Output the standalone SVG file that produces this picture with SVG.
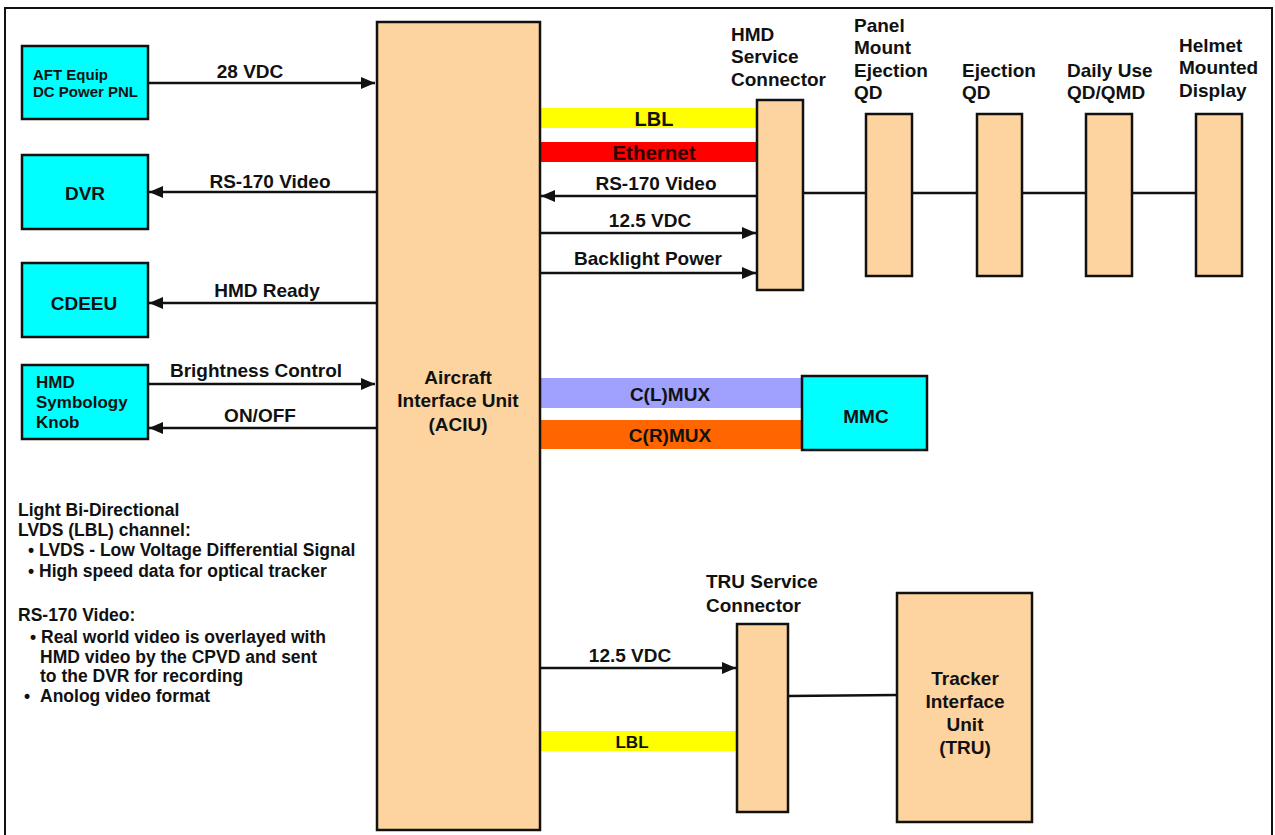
<svg xmlns="http://www.w3.org/2000/svg" width="1275" height="835" viewBox="0 0 1275 835">
<defs>
<style>
text{font-family:"Liberation Sans",Arial,sans-serif;font-weight:bold;fill:#111}
.c{text-anchor:middle}
.box{stroke:#111;stroke-width:2.5}
.cy{fill:#00FFFF}
.pe{fill:#FDD4A0}
.ln{stroke:#111;stroke-width:2.5;fill:none}
.f19{font-size:19px}
.f17{font-size:17px}
.fn{font-size:17.5px}
.f15{font-size:15px}
</style>
<marker id="ah" viewBox="0 0 14 12" refX="14" refY="6" markerWidth="14" markerHeight="12" markerUnits="userSpaceOnUse" orient="auto">
<path d="M0,0 L14,6 L0,12 z" fill="#111"/>
</marker>
</defs>
<rect x="0" y="0" width="1275" height="835" fill="#fff"/>
<path d="M5,836 V8 H1272 V836" fill="none" stroke="#111" stroke-width="2"/>

<g id="bands">
<rect x="540" y="108" width="217" height="20" fill="#FFFF00"/>
<rect x="540" y="142" width="217" height="20" fill="#FF0000"/>
<rect x="540" y="378" width="262" height="30" fill="#A0A0FF"/>
<rect x="540" y="420" width="262" height="29" fill="#FF6600"/>
<rect x="540" y="731" width="197" height="20" fill="#FFFF00"/>
</g>

<g id="connectors">
<line class="ln" x1="148" y1="83" x2="375" y2="83" marker-end="url(#ah)"/>
<line class="ln" x1="376" y1="192" x2="149" y2="192" marker-end="url(#ah)"/>
<line class="ln" x1="376" y1="303" x2="149" y2="303" marker-end="url(#ah)"/>
<line class="ln" x1="148" y1="384" x2="375" y2="384" marker-end="url(#ah)"/>
<line class="ln" x1="376" y1="428" x2="149" y2="428" marker-end="url(#ah)"/>
<line class="ln" x1="757" y1="196" x2="541" y2="196" marker-end="url(#ah)"/>
<line class="ln" x1="540" y1="233" x2="756" y2="233" marker-end="url(#ah)"/>
<line class="ln" x1="540" y1="273" x2="756" y2="273" marker-end="url(#ah)"/>
<line class="ln" x1="803" y1="193" x2="1196" y2="193"/>
<line class="ln" x1="540" y1="668" x2="736" y2="668" marker-end="url(#ah)"/>
<line class="ln" x1="788" y1="696" x2="897" y2="695"/>
<text class="c f19" x="250" y="78">28 VDC</text>
<text class="c f19" x="270" y="188">RS-170 Video</text>
<text class="c f19" x="267" y="297">HMD Ready</text>
<text class="c f19" x="256" y="377">Brightness Control</text>
<text class="c f19" x="260" y="422">ON/OFF</text>
<text class="c" x="654" y="126" style="font-size:20px">LBL</text>
<text class="c" x="654" y="160" style="font-size:20.5px;fill:#300">Ethernet</text>
<text class="c f19" x="656" y="190">RS-170 Video</text>
<text class="c f19" x="650" y="227">12.5 VDC</text>
<text class="c f19" x="648" y="265">Backlight Power</text>
<text class="c f19" x="670" y="401">C(L)MUX</text>
<text class="c f19" x="670" y="442">C(R)MUX</text>
<text class="c f19" x="630" y="662">12.5 VDC</text>
<text class="c f17" x="632" y="748">LBL</text>
</g>

<g id="aft">
<rect class="box cy" x="22" y="46" width="126" height="73"/>
<text class="f15" x="33" y="80">AFT Equip</text>
<text class="f15" x="33" y="97">DC Power PNL</text>
</g>
<g id="dvr">
<rect class="box cy" x="22" y="155" width="126" height="74"/>
<text class="c f19" x="85" y="200">DVR</text>
</g>
<g id="cdeeu">
<rect class="box cy" x="22" y="263" width="126" height="74"/>
<text class="c f19" x="84" y="310">CDEEU</text>
</g>
<g id="knob">
<rect class="box cy" x="22" y="365" width="126" height="74"/>
<text class="f17" x="36" y="388">HMD</text>
<text class="f17" x="36" y="408">Symbology</text>
<text class="f17" x="36" y="428">Knob</text>
</g>

<g id="aciu">
<rect class="box pe" x="377" y="22" width="163" height="808"/>
<text class="c f19" x="458" y="384">Aircraft</text>
<text class="c f19" x="458" y="407">Interface Unit</text>
<text class="c f19" x="458" y="431">(ACIU)</text>
</g>

<g id="hmd-service">
<rect class="box pe" x="757" y="100" width="46" height="190"/>
<text class="f19" x="731" y="41">HMD</text>
<text class="f19" x="731" y="63">Service</text>
<text class="f19" x="731" y="86">Connector</text>
</g>
<g id="panel-qd">
<rect class="box pe" x="866" y="114" width="46" height="162"/>
<text class="f19" x="854" y="32">Panel</text>
<text class="f19" x="854" y="54">Mount</text>
<text class="f19" x="854" y="77">Ejection</text>
<text class="f19" x="854" y="99">QD</text>
</g>
<g id="ejection-qd">
<rect class="box pe" x="977" y="114" width="45" height="162"/>
<text class="f19" x="962" y="77">Ejection</text>
<text class="f19" x="962" y="99">QD</text>
</g>
<g id="daily-qd">
<rect class="box pe" x="1086" y="114" width="46" height="162"/>
<text class="f19" x="1067" y="77">Daily Use</text>
<text class="f19" x="1067" y="99">QD/QMD</text>
</g>
<g id="hmd-display">
<rect class="box pe" x="1196" y="114" width="46" height="162"/>
<text class="f19" x="1179" y="52">Helmet</text>
<text class="f19" x="1179" y="74">Mounted</text>
<text class="f19" x="1179" y="97">Display</text>
</g>

<g id="mmc">
<rect class="box cy" x="802" y="376" width="125" height="74"/>
<text class="c f19" x="866" y="423">MMC</text>
</g>

<g id="tru-service">
<rect class="box pe" x="737" y="624" width="51" height="188"/>
<text class="f19" x="706" y="588">TRU Service</text>
<text class="f19" x="706" y="612">Connector</text>
</g>
<g id="tru">
<rect class="box pe" x="897" y="593" width="135" height="229"/>
<text class="c f19" x="965" y="685">Tracker</text>
<text class="c f19" x="965" y="708">Interface</text>
<text class="c f19" x="965" y="731">Unit</text>
<text class="c f19" x="965" y="754">(TRU)</text>
</g>

<g id="notes">
<text class="fn" x="18" y="516">Light Bi-Directional</text>
<text class="fn" x="18" y="536">LVDS (LBL) channel:</text>
<text class="fn" x="28" y="556">• LVDS - Low Voltage Differential Signal</text>
<text class="fn" x="28" y="577">• High speed data for optical tracker</text>
<text class="fn" x="18" y="621">RS-170 Video:</text>
<text class="fn" x="30" y="643">• Real world video is overlayed with</text>
<text class="fn" x="40" y="663">HMD video by the CPVD and sent</text>
<text class="fn" x="40" y="682">to the DVR for recording</text>
<text class="fn" x="24" y="702">•</text>
<text class="fn" x="40" y="702">Anolog video format</text>
</g>
</svg>
